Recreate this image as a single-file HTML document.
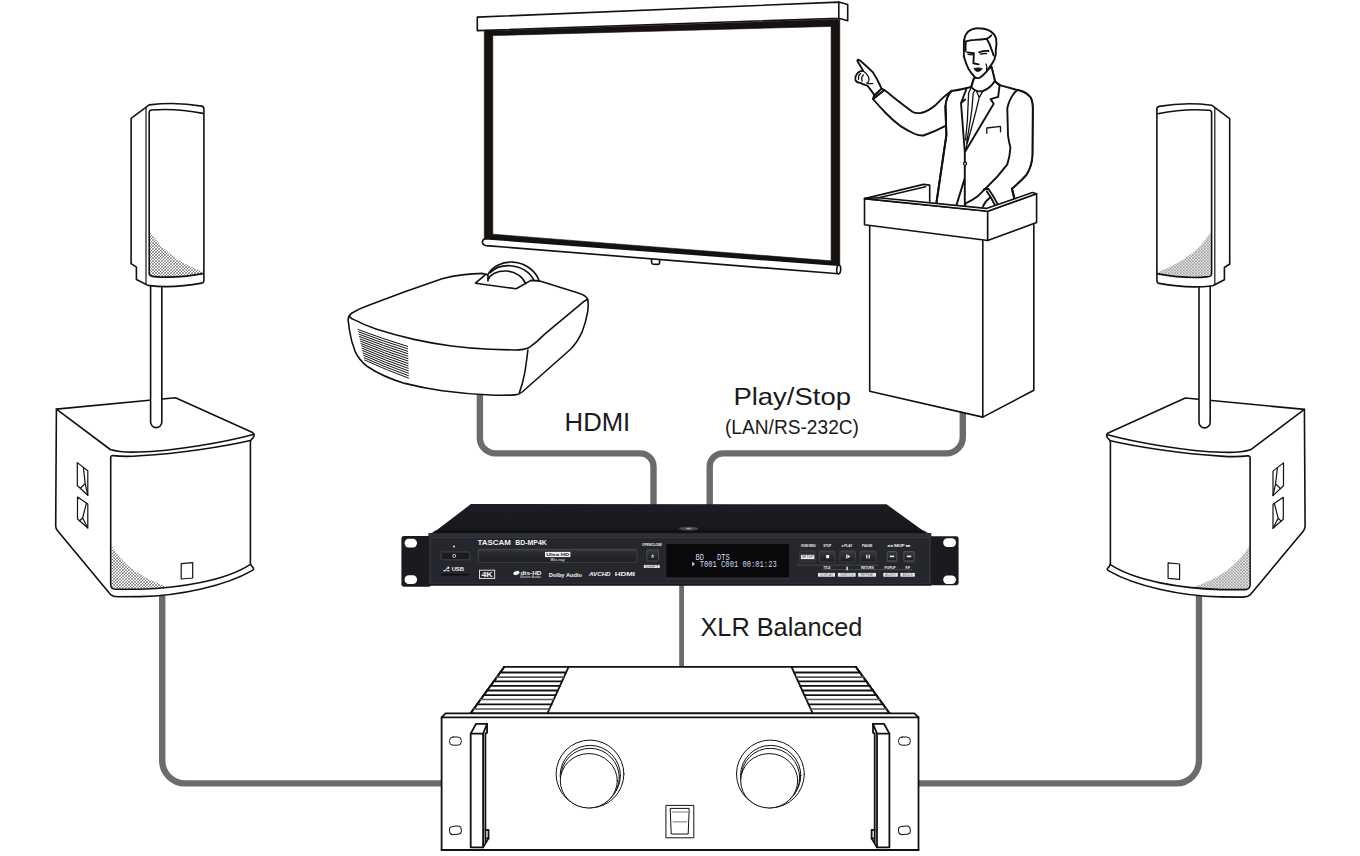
<!DOCTYPE html>
<html lang="en">
<head>
<meta charset="utf-8">
<title>BD-MP4K system connection example</title>
<style>
html,body{margin:0;padding:0;background:#fff;}
body{width:1360px;height:856px;overflow:hidden;font-family:"Liberation Sans",sans-serif;}
svg{display:block;}
.k{fill:none;stroke:#111;stroke-width:1.6;stroke-linejoin:round;stroke-linecap:round;}
.w{fill:#fff;stroke:#111;stroke-width:1.6;stroke-linejoin:round;stroke-linecap:round;}
.t{fill:none;stroke:#111;stroke-width:1;stroke-linejoin:round;stroke-linecap:round;}
.wt{fill:#fff;stroke:#111;stroke-width:1;stroke-linejoin:round;stroke-linecap:round;}
.cab{fill:none;stroke:#6b6b6b;stroke-width:6.4;stroke-linejoin:round;}
.lbl{font-family:"Liberation Sans",sans-serif;fill:#1a1a1a;}
.dev{font-family:"Liberation Sans",sans-serif;fill:#f2f2f2;}
#man .k,#man .w{stroke-width:1.9;}
#amp .k,#amp .w{stroke-width:1.8;}
#spk .wt,#spk .t{stroke-width:1.2;}
#man .t,#man .wt{stroke-width:1.3;}
.lcd{font-family:"Liberation Mono",monospace;fill:#cfd9ea;}
</style>
</head>
<body>
<svg width="1360" height="856" viewBox="0 0 1360 856">
<defs>
<pattern id="mesh" width="3" height="3" patternUnits="userSpaceOnUse">
<path d="M-0.5,3.5 L3.5,-0.5 M-0.5,0.5 L0.5,-0.5 M2.5,3.5 L3.5,2.5" stroke="#2a2a2a" stroke-width="0.5" fill="none"/>
<path d="M-0.5,-0.5 L3.5,3.5 M-0.5,2.5 L0.5,3.5 M2.5,-0.5 L3.5,0.5" stroke="#2a2a2a" stroke-width="0.4" fill="none"/>
</pattern>
<linearGradient id="gtop" x1="0" y1="0" x2="0" y2="1">
<stop offset="0" stop-color="#1d1e23"/><stop offset="0.75" stop-color="#17181c"/><stop offset="1" stop-color="#101114"/>
</linearGradient>
<linearGradient id="gtray" x1="0" y1="0" x2="0" y2="1">
<stop offset="0" stop-color="#3b3c42"/><stop offset="0.25" stop-color="#2a2b30"/><stop offset="1" stop-color="#1d1e22"/>
</linearGradient>
<linearGradient id="gbtn" x1="0" y1="0" x2="0" y2="1">
<stop offset="0" stop-color="#3a3b40"/><stop offset="1" stop-color="#1c1d21"/>
</linearGradient>

<!-- SPEAKER (left version, mirrored for right) -->
<g id="spk">
  <!-- sub -->
  <path class="w" d="M56.4,409.1 L175.5,397.7 L252.6,432.6 Q255.6,434.6 252.9,438 Q250.4,439.6 250.4,442 L250.4,563.4 Q251,566 253,567.6 Q254.4,569.4 252,570.6 C226,585.6 180,596 140,596.6 L118,596.8 Q113,596.6 110.3,594.3 L57.4,530.6 Q55.7,528.6 55.7,526 Z"/>
  <path class="k" d="M56.4,409.1 L110.3,449.5 Q120,452.6 138,452 C175,451 225,442 253.3,434.4"/>
  <path fill="url(#mesh)" stroke="none" d="M111.6,546 Q128,574 169,587.4 Q140,590 113,588.4 L111.6,585 Z"/>
  <path class="k" d="M250.4,440.5 C225,446.4 180,453.4 140,455.8 Q125,457 113,455.6 Q110.7,455.4 110.7,457.6 L110.7,584.5 Q110.8,589 115.4,589.3 L140,589.3 C180,588 225,581 250.4,564.4"/>
  <path class="wt" d="M77.3,462.6 L87.8,470.8 L87.8,495.3 L77.3,485.5 Z"/>
  <path class="t" d="M83.4,467.4 L85.2,483.6 L80.4,488.2 M85.2,483.6 L87.8,495.3"/>
  <path class="wt" d="M77.5,497 L87.8,504 L87.8,528 L77.5,519 Z"/>
  <path class="t" d="M86.4,503.2 L82.6,518 L79.6,520.8 M82.6,518 L87.8,528"/>
  <path class="wt" d="M181.2,563.7 L192.7,562.6 L192.7,578 L181.2,579 Z"/>
  <!-- pole -->
  <path class="w" d="M150.6,284 L150.6,422 A5.6,5.6 0 0 0 161.8,422 L161.8,284 Z"/>
  <!-- top speaker -->
  <path class="w" d="M131.1,118.4 L149.2,104.9 Q176,101.6 201.8,106.1 Q203.9,106.6 203.9,109.2 L203.9,280 Q203.9,282.8 201.8,283.1 Q172.6,288.6 148,285.4 L136.4,279.5 L136.4,267.2 L131.1,263.7 Z"/>
  <path class="t" d="M146,107.4 L146,284.4"/>
  <path fill="url(#mesh)" stroke="none" d="M150,231.6 Q166,258 202.6,271.6 L202.6,274.2 Q176,279 152,276.4 L150,274 Z"/>
  <path class="k" d="M203,113.4 Q176,108 151.6,110 Q149.2,110.3 149.2,112.6 L149.2,273.4 Q149.3,276.3 153.9,276.6 Q176,278.6 203,273.6"/>
</g>
</defs>

<rect x="0" y="0" width="1360" height="856" fill="#fff"/>

<!-- CABLES -->
<g id="cables">
  <path class="cab" d="M162.2,590 L162.2,760.4 A23,23 0 0 0 185.2,783.4 L446,783.4"/>
  <path class="cab" d="M1199,590 L1199,760.4 A23,23 0 0 1 1176,783.4 L914,783.4"/>
  <path class="cab" d="M479.9,390 L479.9,437.9 A15.5,15.5 0 0 0 495.4,453.4 L640.5,453.4 A13,13 0 0 1 653.5,466.4 L653.5,510"/>
  <path class="cab" d="M962.8,405 L962.8,436.9 A16.5,16.5 0 0 1 946.3,453.4 L722.7,453.4 A13,13 0 0 0 709.7,466.4 L709.7,510"/>
  <path class="cab" style="stroke-width:4.8" d="M681.6,580 L681.6,668"/>
</g>

<!-- SPEAKERS -->
<use href="#spk"/>
<use href="#spk" transform="translate(1360.8,0.3) scale(-1,1)"/>

<!-- SCREEN -->
<g id="screen">
  <path fill="#17110f" stroke="#17110f" stroke-width="0.6" fill-rule="evenodd" d="M484.3,31 L839.8,19.3 L839.8,267 L484.3,239.6 Z M492.8,35.6 L831.1,26.4 L831.1,260.8 L492.8,234.2 Z"/>
  <path class="w" d="M477.3,17.1 L838.8,2.1 L838.8,18.2 L477.3,30.6 Z"/>
  <path class="w" d="M838.8,2.1 L847.7,4.5 L847.7,20.7 L838.8,18.2 Z"/>
  <path class="w" d="M651.6,258 L651.6,262.6 Q651.6,264.2 653.2,264.2 L658,264.4 Q659.6,264.4 659.6,262.8 L659.6,258 Z"/>
  <path class="w" d="M486,238.7 L838.6,265.2 L838.6,273.8 L486,245.6 Q482.4,245 482.4,242 Q482.6,238.8 486,238.7 Z"/>
  <ellipse class="w" cx="838.7" cy="269.5" rx="2" ry="4.3" transform="rotate(4 838.7 269.5)"/>
</g>


<!-- PROJECTOR -->
<g id="projector">
  <path class="w" d="M348.1,319.8 Q348.4,315.4 351.5,313.3 Q359,308.8 367.4,305.8 L404.8,291.8 L442.1,278.7 Q462,273.6 483,273.4 L487.7,275.2 L539,280.8 L578.3,293 Q586.4,295.6 587.7,299.5 Q588.6,305 587.7,311.7 Q586,322 582,332.2 Q577.6,342 570.8,349 L522.2,392 Q519,394.6 514.8,394.9 Q503,395.6 490,395 Q466,394 442.1,390.8 Q423,388 404.8,383.4 Q383,377 367.4,366.5 Q359,360 355.2,351.6 Q351,341 349.6,331 Z"/>
  <path class="k" d="M349.2,316 Q351,318.4 352.4,318.9 Q364,325 376.7,329.2 Q395,335 414,339.4 Q432,343.4 451.5,346 Q470,348.4 490,349.3 L514.8,350 Q524,350 529.7,347.2 Q537,342 544.7,334.1 L584,301.4 Q586.6,299.6 587.6,299.4"/>
  <path class="k" d="M527.9,350 Q526.6,361 525,371.5 Q523,383 519.4,392.6"/>
  <!-- lens -->
  <path class="w" d="M487.7,275.2 C 492,266 503,261.6 512.9,262.1 C 527,263 536,272 539.2,280.9 L530.9,280.4 L516.2,288.8 L475.5,283.2 L486,274.1 Z"/>
  <path class="k" d="M490.2,272.7 C 495,267.5 503,265.4 509.9,265.7 C 521,266.3 530,272 533.7,279.9"/>
  <path class="w" d="M488,274.6 L487.9,281 C 489,274 498,270.6 506.5,271 C 516,271.8 523,277 525.6,283.6"/>
  <!-- vents -->
  <g class="t">
    <path d="M358.0,329.5 Q382.8,338.9 407.6,346.4"/>
    <path d="M358.5,331.8 Q383.1,341.3 407.7,348.8"/>
    <path d="M359.0,334.2 Q383.4,343.7 407.7,351.3"/>
    <path d="M359.5,336.5 Q383.7,346.1 407.8,353.7"/>
    <path d="M360.0,338.9 Q384.0,348.5 407.9,356.2"/>
    <path d="M360.5,341.2 Q384.2,350.9 407.9,358.6"/>
    <path d="M361.0,343.6 Q384.5,353.3 408.0,361.0"/>
    <path d="M361.6,345.9 Q384.8,355.7 408.1,363.5"/>
    <path d="M362.1,348.3 Q385.1,358.1 408.2,365.9"/>
    <path d="M362.6,350.6 Q385.4,360.5 408.2,368.3"/>
    <path d="M363.1,353.0 Q385.7,362.9 408.3,370.8"/>
    <path d="M363.6,355.3 Q386.0,365.3 408.4,373.2"/>
    <path d="M364.1,357.7 Q386.3,367.7 408.4,375.7"/>
    <path d="M364.6,360.0 Q386.6,370.1 408.5,378.1"/>
  </g>
</g>

<!-- PODIUM -->
<g id="podium">
  <path class="w" d="M864.5,198.6 L923.5,184.4 L929.7,185.1 L929.7,206 L880,201 Z"/>
  <path class="k" d="M878.7,197.7 L925.6,186.8"/>
  <!-- MAN -->
  <g id="man">
    <!-- torso fill -->
    <path class="w" d="M971,87 Q960,90 951.5,91 Q946,97 945.4,106 L946.4,135 L936,206 L1000,212 L1014.5,199 L1011.9,188.7 Q1026,176 1026.3,175 Q1032,166 1032.4,155.3 L1032.8,108.2 Q1032.6,98 1029.3,96 Q1026,92 1017.2,90 L1000.7,85.4 Q996,82.6 994.9,80.7 L991.4,66.7 L973.9,78.4 Z"/>
    <!-- raised arm -->
    <path class="w" d="M951.5,90.7 Q944,96 936,104.7 Q928,111.6 920.7,113 Q915,113.4 912.3,111.7 Q902,104 894,97.7 Q888,92.6 884.3,90 L873,99 Q879,106 885.7,113 Q893,120.6 901,126.4 Q908,131 915,134 Q919,135.8 923.5,135.5 Q934,132 946,125.6 L945.4,106 Q946,97 951.5,90.7 Z"/>
    <!-- cuff + hand -->
    <path class="w" d="M884.3,90 L881.5,88.6 L874,95.6 L873,99 Z"/>
    <path class="w" d="M857.6,59.8 Q859,59.4 860.6,61 Q868,67.4 873,72.4 Q877,78.6 879.4,84 L881.5,88.6 L874.4,95.2 Q871,90 867.4,85.6 Q863,84.6 860.4,82.9 Q856.4,82.6 855.5,80.1 Q854.6,77.4 856.2,75.2 Q857.4,72.6 860,71.4 Q862,70.6 863.2,71 Q860.4,66 857.6,61.6 Q857,60.4 857.6,59.8 Z"/>
    <path class="t" d="M863.2,71 Q867,73.4 868.6,77 Q869.6,80 868,82.4 M860.6,73.6 Q857.8,75.6 858.6,79.4 M863.4,75 Q861,77 862,81 M866.6,82.8 Q869.4,84 872.6,83.6"/>
    <!-- body lines -->
    <path class="k" d="M945.4,106 L946.4,135 L936.2,204"/>
    <path class="k" d="M966.4,89 L961,103 L964.8,152.3 M961,103 L965.2,99.6 M994.9,81.3 L999.6,85.6 L999,90 M999,90 L998.2,96.8 L990.6,99.1 L993.7,103.7 L964.8,152.3 L964.8,178 L956.4,205.4 M964.8,178 L964.8,206"/>
    <path class="t" d="M971,88 L968.6,93 L967.4,120 L965.6,140 M973.2,93 Q972.4,110 969.4,126 L966.6,143 M979.2,97.6 Q974,120 965.6,149.2 M973.2,93 L975.6,89 L979.2,97.6 L982.6,91.4 M975.6,89 L972.6,86"/>
    <path class="t" d="M971.4,86.6 Q975,92 982.4,91.2 Q990,88.6 994.6,81"/>
    <circle class="wt" cx="965.1" cy="163.7" r="1.5"/>
    <path class="t" d="M986.8,133.3 L986.8,128 L1000.5,126.4 L1000.5,131.8"/>
    <!-- right arm (on podium) -->
    <path class="w" d="M1014.2,93 Q1009,100 1007.3,108.2 L1008,135.6 Q1009,142 1010.4,147.7 Q1010,156 1007.3,164.4 Q998,177 986.8,187.2 L977.7,196.3 Q972,200.6 965.6,203.4 L964.8,208 L1000,212 L1014.5,199 L1011.9,188.7 Q1021,181 1026.3,175 Q1032,166 1032.4,155.3 L1032.8,108.2 Q1032.4,98.6 1029.3,96 Q1024,91 1017.2,90 Z"/>
    <path class="k" d="M983.8,189.5 L988.3,188.7 Q993,195 997.4,203.6 M986.8,191.4 Q991,197 995.2,205.6"/>
    <path class="k" d="M989.9,197.8 Q985,201.4 983,206.4"/>
    <path class="k" d="M1011.9,188.7 L1014.4,199"/>
    <!-- head -->
    <path class="w" d="M973.9,78.6 L971.4,87 Q976,92.6 983,91 Q990.6,88 994.9,80.7 L991.6,67 Z"/>
    <path class="w" d="M963.9,43.4 Q964,35.6 968,31.7 Q972.6,28 978.6,28.2 Q985.6,28.2 990.2,31.1 Q995,34 996.1,38.7 Q997,44 995.8,50.4 Q996.4,55 994.3,59.7 Q992,64 990,66.6 Q988.4,69 986.7,71.4 Q983.4,75.4 979.7,77.8 Q977.4,78.6 975,77.2 Q971.6,74 968.6,69.1 Q966,64 964.5,58.6 Q963.4,55.6 963.9,52.7 Z"/>
    <path class="k" d="M965.8,41.4 Q970,40 975,39.9 Q981,39.6 986.7,38.7 Q989.8,37.4 991.4,35.2 M986.7,38.7 Q990,44 991.4,49 Q992.6,52.4 993.7,55.6 M965.8,41.4 Q965.4,46 965.6,51"/>
    <path class="k" d="M967.2,52.4 L973.9,53.3 M979.1,52.3 Q984,50.6 988.5,51 M973.9,53.3 L973.4,63.2 L978.6,64.4"/>
    <path class="t" d="M968,54.4 L972.6,54.8 M980.4,54.2 Q983.6,53.2 986.6,53.6 M986,64 Q987.6,67 986.4,70"/>
    <path fill="#111" stroke="#111" stroke-width="0.8" stroke-linejoin="round" d="M973.9,68.4 Q978,67.4 982.2,68.4 Q980.4,71.8 977.4,71.6 Q975,71 973.9,68.4 Z"/>
  </g>

  <path class="w" d="M869.7,224 L982.8,238 L982.8,417.1 L869.7,391.3 Z"/>
  <path class="w" d="M982.8,238 L1033.8,221 L1033.8,390.3 L982.8,417.1 Z"/>
  <path class="w" d="M864.5,198.6 L987.7,211.2 L987.7,240.5 L864.5,224.8 Z"/>
  <path class="w" d="M987.7,211.2 L1036.6,193.7 L1036.6,222.4 L987.7,240.5 Z"/>
  <path class="w" d="M864.5,198.6 L878.7,197.7 L986.3,208.4 L1032.4,192.6 L1036.6,193.7 L987.7,211.2 Z"/>
</g>

<!-- LABELS -->
<g id="labels">
  <text class="lbl" x="564.6" y="431.4" font-size="25.8" textLength="65.6" lengthAdjust="spacingAndGlyphs">HDMI</text>
  <text class="lbl" x="733.4" y="405.2" font-size="24.4" textLength="117.6" lengthAdjust="spacingAndGlyphs">Play/Stop</text>
  <text class="lbl" x="725" y="434.2" font-size="19.6" textLength="134" lengthAdjust="spacingAndGlyphs">(LAN/RS-232C)</text>
  <text class="lbl" x="700.4" y="635.6" font-size="25.4" textLength="162" lengthAdjust="spacingAndGlyphs">XLR Balanced</text>
</g>

<!-- DEVICE BD-MP4K -->
<g id="device">
  <rect x="401.4" y="536.1" width="30" height="50.6" rx="2.4" fill="#1b1b1f"/>
  <rect x="929" y="536.2" width="29.6" height="49" rx="2.4" fill="#1b1b1f"/>
  <rect x="404.6" y="538.7" width="12.4" height="8.8" rx="4.2" fill="#fff"/>
  <rect x="404.6" y="575.3" width="12.4" height="8.8" rx="4.2" fill="#fff"/>
  <rect x="943.2" y="538.3" width="12.8" height="8.6" rx="4.2" fill="#fff"/>
  <rect x="943.2" y="575.4" width="12.8" height="8.6" rx="4.2" fill="#fff"/>
  <path fill="url(#gtop)" d="M470.9,504.1 L886.5,504.3 L931.2,536.4 L428.3,536.4 Z"/>
  <path fill="#0e0f12" d="M435,530.4 L924,530.4 L929,533.4 L431,533.4 Z" opacity="0.75"/>
  <ellipse cx="688.6" cy="528.6" rx="9.6" ry="1.9" fill="#4a4b50"/>
  <ellipse cx="688.6" cy="528.6" rx="3" ry="0.8" fill="#9a9ba0"/>
  <rect x="428.6" y="533.2" width="502.6" height="52.2" fill="#26272c"/>
  <rect x="428.6" y="533.2" width="502.6" height="3.4" fill="#2f3035"/>
  <rect x="430.2" y="537.6" width="499.6" height="46.4" fill="none" stroke="#3c3d43" stroke-width="0.8"/>
  <rect x="428.6" y="584.2" width="502.6" height="1.4" fill="#141417"/>
  <!-- left controls -->
  <circle cx="454" cy="546.4" r="1" fill="#e8e8e8"/>
  <rect x="441.1" y="552" width="28.7" height="7.8" rx="0.8" fill="#1a1b1f" stroke="#55565c" stroke-width="0.7"/>
  <circle cx="454.2" cy="555.9" r="1.5" fill="none" stroke="#eee" stroke-width="0.8"/>
  <text class="dev" x="443.4" y="571.4" font-size="6.2" font-weight="bold" textLength="20.6" lengthAdjust="spacingAndGlyphs">&#9095; USB</text>
  <rect x="441" y="573.8" width="27.8" height="1.6" fill="#0c0c0e"/>
  <!-- logo -->
  <text class="dev" x="477.4" y="545.3" font-size="7.4" font-weight="bold" textLength="33.4" lengthAdjust="spacingAndGlyphs">TASCAM</text>
  <text class="dev" x="515.3" y="545.3" font-size="7.4" font-weight="bold" textLength="31.4" lengthAdjust="spacingAndGlyphs">BD-MP4K</text>
  <!-- tray -->
  <rect x="478.2" y="549.3" width="158.8" height="13" rx="0.8" fill="url(#gtray)" stroke="#55565c" stroke-width="0.6"/>
  <rect x="545" y="551.9" width="25.4" height="5.2" fill="#f0f0f0"/>
  <text x="546.2" y="556.2" font-size="4.2" font-weight="bold" font-family="Liberation Sans, sans-serif" fill="#222" textLength="23" lengthAdjust="spacingAndGlyphs">Ultra HD</text>
  <text class="dev" x="550.6" y="560.6" font-size="2.8" textLength="14" lengthAdjust="spacingAndGlyphs">Blu-ray</text>
  <!-- logos row -->
  <rect x="479.5" y="570.2" width="15.2" height="8.2" fill="none" stroke="#f0f0f0" stroke-width="0.9"/>
  <text class="dev" x="481.4" y="577.2" font-size="7.4" font-weight="bold" textLength="11.4" lengthAdjust="spacingAndGlyphs">4K</text>
  <ellipse cx="516.4" cy="573" rx="3.2" ry="1.9" fill="#f2f2f2" transform="rotate(-20 516.4 573)"/><text class="dev" x="520.4" y="575.4" font-size="5.8" font-weight="bold" textLength="21" lengthAdjust="spacingAndGlyphs">dts-HD</text>
  <text class="dev" x="520" y="578.4" font-size="2.6" textLength="21" lengthAdjust="spacingAndGlyphs" opacity="0.8">Master Audio</text>
  <text class="dev" x="548.7" y="576.6" font-size="5.8" font-weight="bold" textLength="33.4" lengthAdjust="spacingAndGlyphs">Dolby Audio</text>
  <text class="dev" x="589" y="576.4" font-size="6.2" font-weight="bold" font-style="italic" textLength="21.6" lengthAdjust="spacingAndGlyphs">AVCHD</text>
  <text class="dev" x="614.7" y="576.4" font-size="6.2" font-weight="bold" textLength="20.4" lengthAdjust="spacingAndGlyphs">HDMI</text>
  <!-- open/close -->
  <text class="dev" x="642.1" y="545.8" font-size="3.6" font-weight="bold" textLength="19.8" lengthAdjust="spacingAndGlyphs">OPEN/CLOSE</text>
  <rect x="646.8" y="549.9" width="11.7" height="11.1" rx="0.8" fill="url(#gbtn)" stroke="#55565c" stroke-width="0.7"/>
  <path d="M651.4,556 L653.9,556 L652.65,554.2 Z M651.4,556.6 h2.5 v0.9 h-2.5 Z" fill="#eee"/>
  <rect x="643.9" y="564.9" width="15.8" height="3.1" fill="#ececec"/>
  <text x="645" y="567.5" font-size="2.8" font-family="Liberation Sans, sans-serif" fill="#555" textLength="13.6" lengthAdjust="spacingAndGlyphs">SHIFT</text>
  <!-- display -->
  <rect x="666.4" y="544.1" width="122.7" height="33.9" rx="1" fill="#0a0a0d"/>
  <rect x="665.9" y="577.6" width="123.8" height="1" fill="#3a3b40"/>
  <text class="lcd" x="695.6" y="559.9" font-size="8.6" textLength="34.2" lengthAdjust="spacingAndGlyphs" xml:space="preserve">BD   DTS</text>
  <path d="M692.2,561.4 L694.8,563.9 L692.2,566.4 Z" fill="#cfd9ea"/>
  <text class="lcd" x="699.7" y="567" font-size="8.6" textLength="77" lengthAdjust="spacingAndGlyphs" xml:space="preserve">T001 C001 00:01:23</text>
  <!-- transport -->
  <g font-weight="bold" font-size="3.6">
    <text class="dev" x="800.9" y="547.1" textLength="14.8" lengthAdjust="spacingAndGlyphs">HOME MENU</text>
    <text class="dev" x="823.2" y="547.1" textLength="8" lengthAdjust="spacingAndGlyphs">STOP</text>
    <text class="dev" x="841.5" y="547.1" textLength="10.9" lengthAdjust="spacingAndGlyphs">&#9656; PLAY</text>
    <text class="dev" x="862.1" y="547.1" textLength="10.3" lengthAdjust="spacingAndGlyphs">PAUSE</text>
    <text class="dev" x="887.2" y="547.1" textLength="23.8" lengthAdjust="spacingAndGlyphs">&#9666;&#9666; SKIP &#9656;&#9656;</text>
  </g>
  <rect x="799.7" y="551" width="15.4" height="10.9" rx="0.6" fill="#2c2d32" stroke="#4a4b50" stroke-width="0.5"/>
  <rect x="800.9" y="554.8" width="13.4" height="4.3" fill="#ececec"/>
  <text x="801.8" y="558.2" font-size="3.2" font-family="Liberation Sans, sans-serif" fill="#444" textLength="11.6" lengthAdjust="spacingAndGlyphs">SETUP</text>
  <rect x="819.3" y="551" width="15.7" height="10.9" rx="0.8" fill="url(#gbtn)" stroke="#505157" stroke-width="0.6"/>
  <rect x="826.1" y="555" width="3" height="3.2" fill="#f0f0f0"/>
  <rect x="839.9" y="551" width="15.7" height="10.9" rx="0.8" fill="url(#gbtn)" stroke="#505157" stroke-width="0.6"/>
  <path d="M846.2,554.6 v4 h0.8 v-4 Z M847.4,554.6 L850.4,556.6 L847.4,558.6 Z" fill="#f0f0f0"/>
  <rect x="860.1" y="551" width="15.9" height="10.9" rx="0.8" fill="url(#gbtn)" stroke="#505157" stroke-width="0.6"/>
  <path d="M866.2,554.8 h1.2 v3.6 h-1.2 Z M868.6,554.8 h1.2 v3.6 h-1.2 Z" fill="#f0f0f0"/>
  <rect x="887.2" y="551.6" width="9.6" height="9.2" rx="0.8" fill="url(#gbtn)" stroke="#6a6b70" stroke-width="0.6"/>
  <rect x="889.8" y="555.6" width="4.4" height="1.6" fill="#f0f0f0"/>
  <rect x="903.9" y="551.6" width="10.3" height="9.2" rx="0.8" fill="url(#gbtn)" stroke="#6a6b70" stroke-width="0.6"/>
  <rect x="906.8" y="555.6" width="4.4" height="1.6" fill="#f0f0f0"/>
  <path d="M796.4,565.1 L878.8,565.1 M886.6,561.8 h10.8 M903.2,561.8 h11.6" stroke="#55565c" stroke-width="0.7" fill="none"/>
  <path d="M822,569.6 L912,569.6" stroke="#77787d" stroke-width="0.4" fill="none"/>
  <g font-size="2.8" font-weight="bold">
    <text class="dev" x="823.4" y="569" textLength="7" lengthAdjust="spacingAndGlyphs">TITLE</text>
    <text class="dev" x="861" y="569" textLength="12.6" lengthAdjust="spacingAndGlyphs">RETURN</text>
    <text class="dev" x="884.6" y="569" textLength="11" lengthAdjust="spacingAndGlyphs">POPUP</text>
    <text class="dev" x="905.4" y="569" textLength="4.6" lengthAdjust="spacingAndGlyphs">F.F</text>
  </g>
  <rect x="846.4" y="566.6" width="1.4" height="3.6" fill="#f0f0f0"/>
  <g fill="#ececec">
    <rect x="818" y="572.9" width="17" height="3.8"/>
    <rect x="837.9" y="572.9" width="17.7" height="3.8"/>
    <rect x="858.2" y="572.9" width="17.8" height="3.8"/>
    <rect x="883.3" y="572.9" width="14.5" height="3.8"/>
    <rect x="900.4" y="572.9" width="14.4" height="3.8"/>
  </g>
  <g font-size="2.8" font-family="Liberation Sans, sans-serif" fill="#666">
    <text x="820" y="576" textLength="13" lengthAdjust="spacingAndGlyphs">DISPLAY</text>
    <text x="840" y="576" textLength="13.6" lengthAdjust="spacingAndGlyphs">SUBTITLE</text>
    <text x="860.4" y="576" textLength="13.4" lengthAdjust="spacingAndGlyphs">REPEAT</text>
    <text x="885" y="576" textLength="11" lengthAdjust="spacingAndGlyphs">AUDIO</text>
    <text x="902.4" y="576" textLength="10.4" lengthAdjust="spacingAndGlyphs">ANGLE</text>
  </g>
</g>

<!-- AMPLIFIER -->
<g id="amp">
  <path class="w" d="M504.3,666.8 L855.8,666.8 L889,713.4 L471.3,713.4 Z"/>
  <g id="finsL">
  <path class="w" d="M504.3,666.8 L568.6,666.8 L547.4,713.4 L470.4,713.4 Z"/>
  <path class="k" d="M504.3,666.8 L501.3,671.5 L500.1,672.5 L498.0,676.1 L496.8,677.1 L494.9,680.3 L493.7,681.3 L491.6,684.9 L490.4,685.9 L488.2,689.5 L487.0,690.5 L484.9,694.1 L483.7,695.1 L481.7,698.5 L480.5,699.5 L478.1,703.4 L476.9,704.4 L474.8,708.0 L473.6,709.0 L471.6,712.4 L470.4,713.4 "/>
  <path class="k" d="M500.1,672.5 L566.0,672.5"/>
  <path class="k" style="stroke:#555;stroke-width:1.6" d="M496.8,677.1 L563.9,677.1"/>
  <path class="k" d="M493.7,681.3 L562.0,681.3"/>
  <path class="k" d="M490.4,685.9 L559.9,685.9"/>
  <path class="k" d="M487.0,690.5 L557.8,690.5"/>
  <path class="k" d="M483.7,695.1 L555.7,695.1"/>
  <path class="k" style="stroke:#555;stroke-width:1.6" d="M480.5,699.5 L553.7,699.5"/>
  <path class="k" d="M476.9,704.4 L551.5,704.4"/>
  <path class="k" style="stroke:#555;stroke-width:1.6" d="M473.6,709.0 L549.4,709.0"/>

  </g>
  <use href="#finsL" transform="translate(1360.1,0) scale(-1,1)"/>
  <path class="w" d="M445.6,713.4 L914.4,713.4 L918.5,717.3 L918.5,850 L441.6,850 L441.6,717.3 Z"/>
  <path class="k" d="M441.6,717.3 L918.5,717.3"/>
  <path class="k" style="stroke-width:2" d="M441.6,850 L918.5,850"/>
  <!-- holes -->
  <rect class="wt" x="449.5" y="737" width="11.8" height="8.2" rx="3.6"/>
  <rect class="wt" x="449.5" y="826.2" width="11.8" height="8.2" rx="3.6" transform="rotate(-6 455.4 830.3)"/>
  <rect class="wt" x="898.5" y="737" width="11.8" height="8.2" rx="3.6"/>
  <rect class="wt" x="898.5" y="826.2" width="11.8" height="8.2" rx="3.6" transform="rotate(-6 904.4 830.3)"/>
  <!-- handles -->
  <g id="handleL">
    <path class="w" d="M470.7,733.6 L476.1,723.8 L487.1,723.8 L487.1,732.6 L485.4,733.6 L485.4,829.8 L488.5,829.8 L488.5,838.4 L483.1,847.4 L470.7,847.4 Z"/>
    <path class="k" d="M470.7,733.6 L483.1,733.6 L487.1,723.8 M483.1,733.6 L483.1,847.4 M485.4,838.4 L488.5,838.4 M485.4,829.8 L485.4,842.6"/>
  </g>
  <use href="#handleL" transform="translate(1360.1,0) scale(-1,1)"/>
  <!-- knobs -->
  <g id="knob">
    <circle class="wt" cx="590" cy="774" r="33.9"/>
    <circle class="t" cx="590.3" cy="775.5" r="30.1"/>
    <circle class="t" cx="590" cy="777.6" r="29.3"/>
    <ellipse class="wt" cx="588.8" cy="780.8" rx="28.5" ry="27.2"/>
  </g>
  <use href="#knob" transform="translate(180.4,0)"/>
  <!-- switch -->
  <rect class="wt" x="666.3" y="805.4" width="27.5" height="32.4"/>
  <path class="wt" d="M670.6,808.4 L689.2,808.4 L688.2,834 L671.6,834 Z"/>
  <path d="M672,812 L687.8,812 M672.6,821.9 L687.2,821.9" stroke="#777" stroke-width="1" fill="none"/>
</g>



</svg>
</body>
</html>
